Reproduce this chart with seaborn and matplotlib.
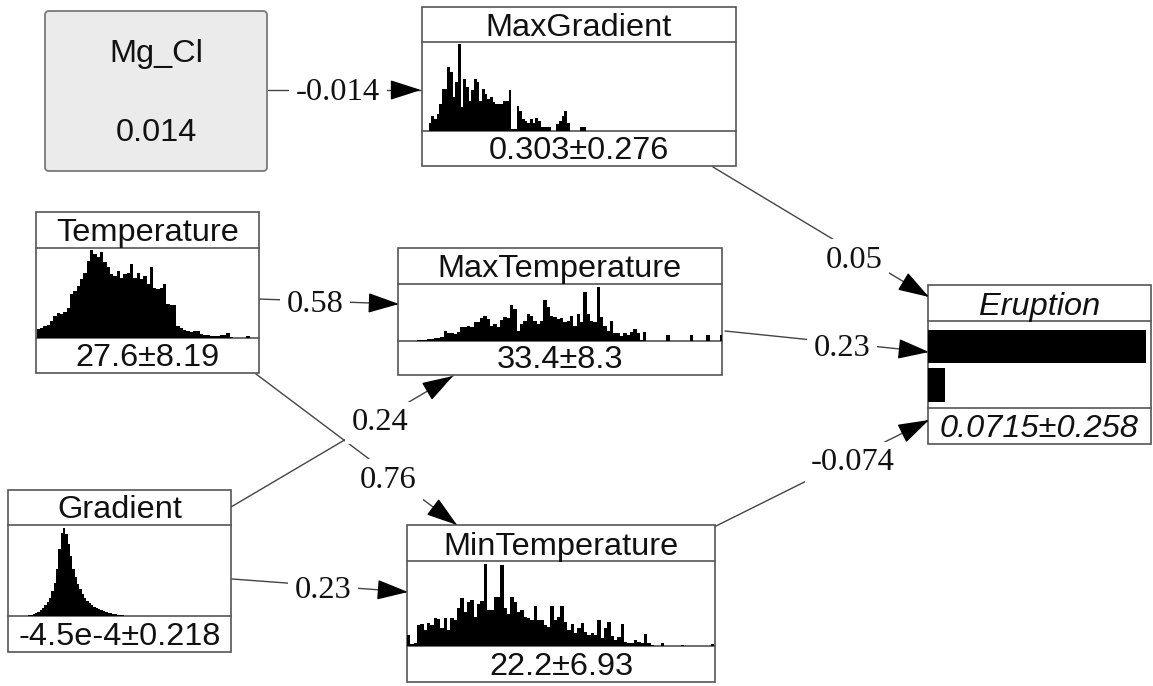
import numpy as np
import matplotlib
matplotlib.use("Agg")
import matplotlib.pyplot as plt
from matplotlib.patches import Rectangle, FancyBboxPatch
import seaborn as sns

sns.set_theme(style="white")
plt.rcParams['font.family'] = ['Liberation Sans', 'DejaVu Sans']

# ---------------- data ----------------
node_names = ["MaxGradient", "Temperature", "MaxTemperature", "Gradient", "MinTemperature", "Eruption"]
node_stats = ["0.303\u00b10.276", "27.6\u00b18.19", "33.4\u00b18.3", "-4.5e-4\u00b10.218", "22.2\u00b16.93", "0.0715\u00b10.258"]

mgcl_name = "Mg_Cl"
mgcl_value = "0.014"

maxgradient_hist = [25, 45, 35, 50, 80, 125, 125, 190, 175, 100, 145, 257, 70, 155, 130, 90, 120, 155,
                    145, 90, 125, 110, 95, 100, 85, 80, 80, 80, 90, 90, 122, 5, 5, 75, 60, 35, 30, 25,
                    35, 25, 38, 30, 12, 12, 12, 12, 0, 0, 20, 30, 45, 58, 25, 0, 0, 0, 0, 12, 12]
temperature_hist = [28, 30, 35, 40, 50, 65, 75, 72, 78, 90, 130, 140, 155, 175, 195, 230, 263, 250, 240,
                    255, 225, 210, 190, 185, 200, 180, 190, 195, 220, 180, 195, 175, 185, 160, 210, 150,
                    145, 150, 160, 100, 98, 98, 35, 30, 25, 22, 18, 20, 20, 12, 8, 8, 6, 6, 6, 8, 10, 14,
                    4, 0, 0, 0, 0, 5, 0, 0, 0]
maxtemperature_hist = [3, 3, 4, 5, 6, 8, 10, 13, 30, 23, 23, 22, 27, 42, 40, 45, 40, 57, 55, 67, 73, 65,
                       45, 50, 40, 63, 70, 67, 107, 95, 30, 50, 60, 80, 75, 60, 50, 60, 120, 100, 75, 70,
                       65, 67, 55, 60, 73, 45, 80, 55, 145, 80, 60, 55, 158, 70, 45, 30, 60, 25, 23, 15,
                       23, 17, 27, 35, 23, 3, 27, 0, 0, 0, 0, 0, 0, 17, 0, 0, 0, 0, 0, 0, 17, 0, 0, 0, 0,
                       17, 0, 0, 0, 17]
gradient_hist = [3, 4, 6, 8, 12, 18, 24, 32, 42, 55, 75, 100, 140, 200, 250, 265, 245, 215, 180, 140, 118,
                 95, 80, 65, 55, 45, 40, 33, 28, 24, 20, 17, 14, 12, 10, 8, 6, 5, 4, 3, 2]
mintemperature_hist = [33, 5, 8, 63, 66, 48, 70, 63, 83, 80, 53, 83, 48, 83, 78, 113, 146, 103, 133, 140,
                       88, 128, 135, 248, 108, 108, 148, 148, 243, 113, 96, 148, 133, 103, 108, 88, 83,
                       78, 120, 78, 78, 63, 58, 120, 78, 88, 120, 73, 48, 66, 38, 53, 70, 43, 33, 38, 33,
                       78, 23, 53, 73, 30, 18, 28, 66, 13, 8, 8, 18, 13, 8, 35, 8, 3, 0, 0, 10, 0, 0, 0,
                       0, 0, 3, 0, 0, 0, 0, 0, 0, 0, 0, 6]
eruption_states = ["0", "1"]
eruption_probs = [0.9285, 0.0715]

edge_src = ["Mg_Cl", "MaxGradient", "Temperature", "MaxTemperature", "Temperature", "Gradient", "Gradient", "MinTemperature"]
edge_dst = ["MaxGradient", "Eruption", "MaxTemperature", "Eruption", "MinTemperature", "MaxTemperature", "MinTemperature", "Eruption"]
edge_weights = ["-0.014", "0.05", "0.58", "0.23", "0.76", "0.24", "0.23", "-0.074"]

# ---------------- layout (pixels) ----------------
W, H = 1153, 686
# x0, x1, ytop, ytitle, yhist, ybottom
boxes = {
    "MaxGradient":    (422, 736, 7, 42, 131, 166),
    "Temperature":    (36, 259, 212, 248, 338, 373),
    "MaxTemperature": (398, 722, 248, 284, 341, 375),
    "Gradient":       (8, 231, 490, 525, 616, 652),
    "MinTemperature": (407, 715, 525, 561, 646, 682),
    "Eruption":       (928, 1151, 285, 321, 408, 444),
}
# histogram x-offset (bins before first value) and total bins across box, y-top
hist_layout = {
    "MaxGradient":    (maxgradient_hist, -3.0, 117.9, 263),
    "Temperature":    (temperature_hist, -0.7, 67.0, 268),
    "MaxTemperature": (maxtemperature_hist, -6.2, 97.4, 168),
    "Gradient":       (gradient_hist, -9.07, 95.4, 273),
    "MinTemperature": (mintemperature_hist, -0.5, 92.3, 256),
}
edge_geom = [((268, 90), (421, 90), (338, 90)),
             ((713, 167), (929, 297), (854, 257)),
             ((258, 299), (399, 304), (315, 302)),
             ((725, 331), (929, 352), (842, 345)),
             ((256, 374), (457, 525), (388, 477)),
             ((231, 507), (453, 376), (380, 420)),
             ((232, 579), (408, 592), (323, 587)),
             ((714, 527), (929, 420), (853, 460))]

fig = plt.figure(figsize=(W / 100, H / 100), dpi=100)
fig.patch.set_facecolor("white")
main = fig.add_axes([0, 0, 1, 1])
main.set_xlim(0, W)
main.set_ylim(H, 0)
main.axis("off")

def inset(x0, x1, y0, y1):
    return fig.add_axes([x0 / W, 1 - y1 / H, (x1 - x0) / W, (y1 - y0) / H])

box_col = "#555555"
fs = 23.4

# Mg_Cl node
main.add_patch(FancyBboxPatch((45, 11), 222, 160, boxstyle="round,pad=0,rounding_size=4",
                              facecolor="#ebebeb", edgecolor="#7a7a7a", lw=1.3, zorder=2))
main.text(156, 62, mgcl_name, ha="center", va="baseline", fontsize=fs, color="#111111", zorder=3)
main.text(156, 141, mgcl_value, ha="center", va="baseline", fontsize=fs, color="#111111", zorder=3)

# other nodes
for name, stat in zip(node_names, node_stats):
    x0, x1, yt, ytt, yh, yb = boxes[name]
    main.add_patch(Rectangle((x0, yt), x1 - x0, yb - yt, facecolor="white", edgecolor=box_col, lw=1.2, zorder=2))
    main.plot([x0, x1], [ytt, ytt], color=box_col, lw=1.2, zorder=3)
    main.plot([x0, x1], [yh, yh], color=box_col, lw=1.2, zorder=3)
    style = "italic" if name == "Eruption" else "normal"
    main.text((x0 + x1) / 2, ytt - 6.5, name, ha="center", va="baseline", fontsize=fs,
              style=style, color="#111111", zorder=3)
    main.text((x0 + x1) / 2, yb - 7, stat, ha="center", va="baseline", fontsize=fs,
              style=style, color="#111111", zorder=3)

# histograms
for name, (vals, left, nb, ytop) in hist_layout.items():
    x0, x1, yt, ytt, yh, yb = boxes[name]
    ax = inset(x0, x1, ytt, yh)
    sns.barplot(x=np.arange(len(vals)), y=vals, ax=ax, color="black", saturation=1, width=1.0,
                errorbar=None, linewidth=0)
    for p in ax.patches:
        p.set_antialiased(False)
    ax.set_xlim(left, left + nb)
    ax.set_ylim(0, ytop)
    ax.axis("off")
    ax.patch.set_alpha(0)

# Eruption bar chart
x0, x1, yt, ytt, yh, yb = boxes["Eruption"]
axe = inset(x0, x1, ytt, yh)
sns.barplot(x=eruption_probs, y=eruption_states, orient="h", ax=axe, color="black", saturation=1,
            width=0.87, errorbar=None, linewidth=0)
axe.set_xlim(0, 0.95)
axe.set_ylim(1.6, -0.66)
axe.axis("off")
axe.patch.set_alpha(0)

# edges
for (s, e, lab), w in zip(edge_geom, edge_weights):
    s = np.array(s, float); e = np.array(e, float)
    main.plot([s[0], e[0]], [s[1], e[1]], color="#444444", lw=1.0, zorder=1)
    u = (e - s) / np.linalg.norm(e - s)
    b = e - 26 * u
    main.annotate("", xy=tuple(e), xytext=tuple(b),
                  arrowprops=dict(arrowstyle="-|>,head_length=1.4,head_width=0.45", mutation_scale=14,
                                  color="black", lw=1, shrinkA=0, shrinkB=0), zorder=4)
    main.text(lab[0], lab[1] + 10.5, w, ha="center", va="baseline", fontsize=fs,
              family=["Liberation Serif", "DejaVu Serif"], color="#111111", zorder=5,
              bbox=dict(boxstyle="square,pad=0.2", facecolor="white", edgecolor="none"))

fig.savefig("out.png", dpi=100, facecolor="white")
